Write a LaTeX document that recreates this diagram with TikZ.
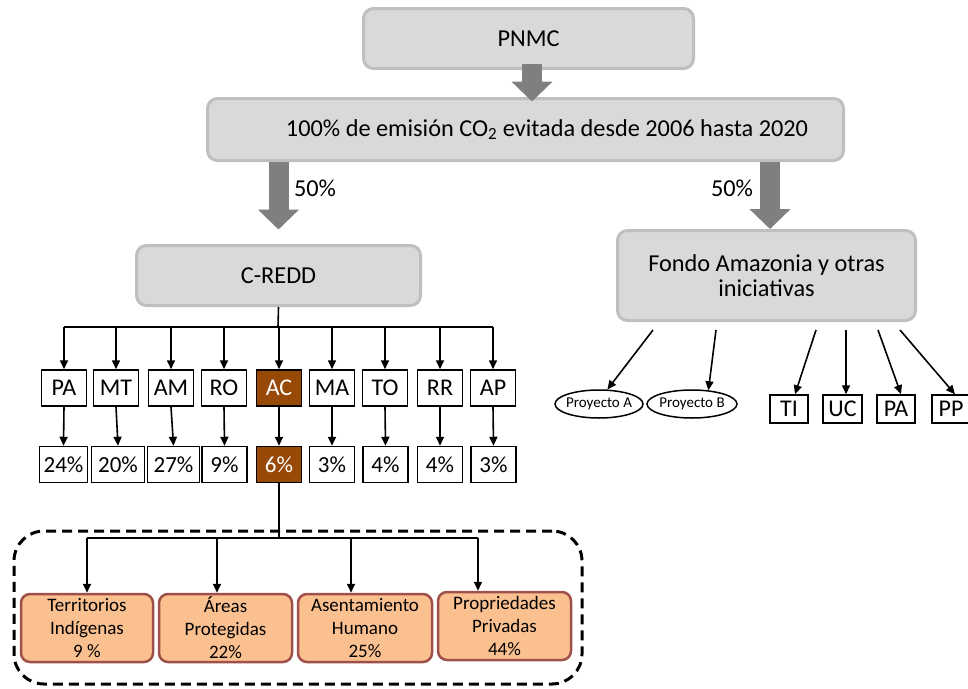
\documentclass[tikz,border=0pt]{standalone}
\usepackage{fontspec}
\setmainfont{Carlito}
\usetikzlibrary{arrows.meta,shapes.geometric}
\definecolor{boxgray}{HTML}{D9D9D9}
\definecolor{bordergray}{HTML}{BFBFBF}
\definecolor{arrowgray}{HTML}{7F7F7F}
\definecolor{acbrown}{HTML}{984807}
\definecolor{subfill}{HTML}{FAC090}
\definecolor{subborder}{HTML}{A0504A}
\begin{document}
\begin{tikzpicture}[x=1pt,y=-1pt,
  mainfont/.style={font=\fontsize{24.3}{29}\selectfont},
  graybox/.style={draw=bordergray, fill=boxgray, line width=3pt, rounded corners=10pt,
    inner sep=0pt, align=center, mainfont},
  statebox/.style={draw=black, fill=white, line width=1.5pt, minimum height=36pt,
    minimum width=45pt, inner sep=0pt, font=\fontsize{24}{28}\selectfont},
  acbox/.style={statebox, fill=acbrown, text=white},
  pctbox/.style={statebox, font=\fontsize{23}{27}\selectfont},
  acpct/.style={pctbox, fill=acbrown, text=white},
  smallbox/.style={statebox, minimum height=28pt, minimum width=38pt},
  projell/.style={ellipse, draw=black, line width=1.5pt, minimum height=28pt,
    inner xsep=-4.5pt, inner ysep=0pt, font=\fontsize{15}{18}\selectfont},
  subbox/.style={draw=subborder, fill=subfill, line width=2.5pt, rounded corners=9pt,
    minimum height=68pt, inner sep=0pt, align=center, font=\fontsize{19}{23}\selectfont},
  dashbox/.style={draw=black, dash pattern=on 10pt off 6pt, line width=3pt,
    rounded corners=30pt, inner sep=0pt},
  fatarrow/.style={draw=arrowgray, line width=20pt, -{Triangle[length=20pt,width=40pt]}},
  conn/.style={draw=black, line width=1.6pt},
  connarrow/.style={conn, -{Triangle[length=9pt,width=8pt]}},
]
\useasboundingbox (0,0) rectangle (968,688);

% top boxes
\node[graybox, minimum width=330pt, minimum height=60pt] (pnmc) at (528.5,38.5) {PNMC};
\node[graybox, minimum width=636pt, minimum height=62pt] (big) at (525.5,129.5)
  {\hspace*{43pt}100\% de emisión CO\textsubscript{2} evitada desde 2006 hasta 2020};
\node[graybox, minimum width=298pt, minimum height=90pt] (fondo) at (766.5,275.5)
  {Fondo Amazonia y otras\\[-4pt]iniciativas};
\node[graybox, minimum width=284pt, minimum height=60pt] (credd) at (278.5,275.5) {C-REDD};

% fat arrows
\coordinate (ta) at ([xshift=3.5pt]pnmc.south);
\draw[fatarrow, shorten <=-6pt, shorten >=-4.5pt] (ta) -- (ta |- big.north);
\coordinate (la) at (credd.north);
\draw[fatarrow, shorten >=14.5pt] (big.south -| la) -- (la);
\coordinate (ra) at ([xshift=3.5pt]fondo.north);
\draw[fatarrow] (big.south -| ra) -- (ra);
\node[mainfont] (lp) at (315,188) {50\%};
\node[mainfont] (rp) at (732,188) {50\%};

% states
\node[statebox] (pa) at (64,388) {PA};
\node[statebox] (mt) at (116,388) {MT};
\node[statebox] (am) at (171,388) {AM};
\node[statebox] (ro) at (224,388) {RO};
\node[acbox]    (ac) at (279,388) {AC};
\node[statebox] (ma) at (332,388) {MA};
\node[statebox] (to) at (385,388) {TO};
\node[statebox] (rr) at (440,388) {RR};
\node[statebox] (ap) at (493,388) {AP};

% percentages
\node[pctbox, minimum width=48pt] (q1) at (63.5,464.5) {24\%};
\node[pctbox, minimum width=53pt] (q2) at (118,464.5) {20\%};
\node[pctbox, minimum width=52pt] (q3) at (173.5,464.5) {27\%};
\node[pctbox] (q4) at (224.5,464.5) {9\%};
\node[acpct]  (q5) at (279,464.5) {6\%};
\node[pctbox] (q6) at (332,464.5) {3\%};
\node[pctbox] (q7) at (385.5,464.5) {4\%};
\node[pctbox] (q8) at (440,464.5) {4\%};
\node[pctbox] (q9) at (493.5,464.5) {3\%};

% C-REDD bus
\coordinate (bus) at (278,327);
\draw[conn] (credd.south) -- (bus);
\draw[conn] (pa.north |- bus) -- (ap.north |- bus);
\foreach \s in {pa,mt,am,ro,ac,ma,to,rr,ap} {
  \draw[connarrow] (\s.north |- bus) -- (\s.north);
}
\foreach \s/\q in {pa/q1,mt/q2,am/q3,ro/q4,ac/q5,ma/q6,to/q7,rr/q8,ap/q9} {
  \draw[connarrow] (\s.south) -- (\q.north);
}

% dashed group
\node[dashbox, minimum width=568pt, minimum height=153pt] (grp) at (298,607.5) {};

% sub boxes
\node[subbox, minimum width=132pt] (s1) at (87,628) {Territorios\\Indígenas\\9 \%};
\node[subbox, minimum width=133pt] (s2) at (225.5,628) {Áreas\\Protegidas\\22\%};
\node[subbox, minimum width=134pt] (s3) at (365,628) {Asentamiento\\Humano\\25\%};
\node[subbox, minimum width=133pt] (s4) at (504.5,626) {Propriedades\\Privadas\\44\%};

\coordinate (sbus) at (279,538);
\coordinate (b1) at (87,538);
\coordinate (b2) at (217,538);
\coordinate (b3) at (351,538);
\coordinate (b4) at (478,538);
\draw[draw=black, line width=2.6pt] (q5.south) -- (sbus);
\draw[conn] (b1) -- (b4);
\draw[connarrow] (b1) -- (b1 |- s1.north);
\draw[connarrow] (b2) -- (b2 |- s2.north);
\draw[connarrow] (b3) -- (b3 |- s3.north);
\draw[connarrow] (b4) -- (b4 |- s4.north);

% right side
\node[projell, minimum width=88pt] (ea) at (599,404) {Proyecto A};
\node[projell, minimum width=90pt] (eb) at (692,404) {Proyecto B};
\node[smallbox] (ti) at (789,409) {TI};
\node[smallbox, minimum width=39pt] (uc) at (842.5,409) {UC};
\node[smallbox] (pb) at (896,409) {PA};
\node[smallbox] (pp) at (951,409) {PP};

\coordinate (f1) at (653,330);
\coordinate (f2) at (716,330);
\coordinate (f3) at (816,330);
\coordinate (f4) at (846,330);
\coordinate (f5) at (878,330);
\coordinate (f6) at (900,330);
\draw[connarrow] (f1) -- (ea.60);
\draw[connarrow] (f2) -- (eb.40);
\draw[connarrow] (f3) -- ([xshift=6pt]ti.north);
\draw[connarrow] (f4) -- (f4 |- uc.north);
\draw[connarrow] (f5) -- ([xshift=5pt]pb.north);
\draw[connarrow] (f6) -- ([xshift=4pt]pp.north);
\end{tikzpicture}
\end{document}
